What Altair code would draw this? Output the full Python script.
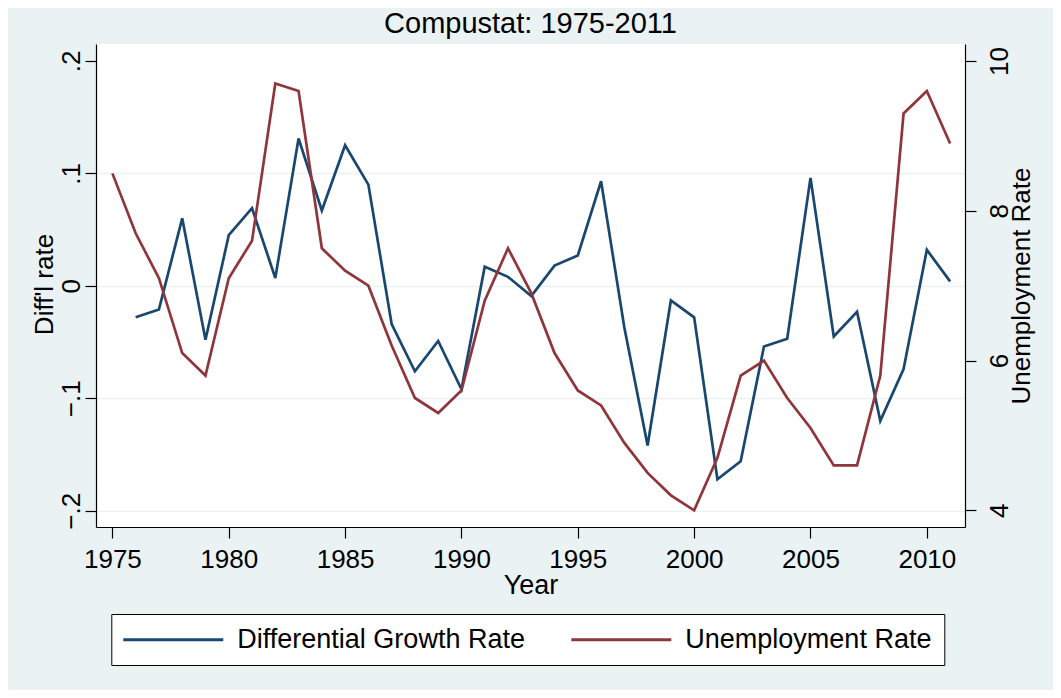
import altair as alt
import pandas as pd

# ---- data ----
years = list(range(1975, 2012))
diff_years = list(range(1976, 2012))
diff_rate = [-0.028, -0.021, 0.060, -0.048, 0.045, 0.069, 0.007, 0.131, 0.067, 0.125,
             0.090, -0.034, -0.076, -0.049, -0.092, 0.017, 0.008, -0.009, 0.018, 0.027,
             0.093, -0.037, -0.142, -0.013, -0.028, -0.172, -0.156, -0.054, -0.047, 0.096,
             -0.045, -0.023, -0.120, -0.074, 0.032, 0.004]
unemp = [8.5, 7.7, 7.1, 6.1, 5.8, 7.1, 7.6, 9.7, 9.6, 7.5,
         7.2, 7.0, 6.2, 5.5, 5.3, 5.6, 6.8, 7.5, 6.9, 6.1,
         5.6, 5.4, 4.9, 4.5, 4.2, 4.0, 4.7, 5.8, 6.0, 5.5,
         5.1, 4.6, 4.6, 5.8, 9.3, 9.6, 8.9]
series_names = ["Differential Growth Rate", "Unemployment Rate"]
series_colors = ["#1A476F", "#90353B"]
x_ticks = [1975, 1980, 1985, 1990, 1995, 2000, 2005, 2010]
left_ticks = [-0.2, -0.1, 0, 0.1, 0.2]
right_ticks = [4, 6, 8, 10]

df = pd.concat([
    pd.DataFrame({"year": diff_years, "series": series_names[0], "value": diff_rate}),
    pd.DataFrame({"year": years, "series": series_names[1], "value": unemp}),
], ignore_index=True)

BG = "#EAF2F3"
FONT = "Liberation Sans"

x_enc = alt.X(
    "year:Q",
    scale=alt.Scale(domain=[1974.295, 2011.64], nice=False, zero=False),
    axis=alt.Axis(values=x_ticks, format="d", title="Year", labelFontSize=26,
                  titleFontSize=27, tickSize=11, labelPadding=8, labelFlush=False,
                  titleY=66, titleBaseline="alphabetic", grid=False),
)

legend = alt.Legend(
    orient="none", legendX=15.3, legendY=570, direction="horizontal", title=None,
    symbolType="M-1.35,0H8.65", symbolSize=400, symbolStrokeWidth=3,
    symbolFillColor="transparent",
    labelFontSize=27, labelFont=FONT, labelColor="black", labelOffset=87,
    labelLimit=500, columnPadding=40, padding=12,
    strokeColor="black", fillColor="white",
    labelExpr="datum.label == 'Unemployment Rate' ? datum.label + '\u00a0' : datum.label",
)
color_enc = alt.Color("series:N", scale=alt.Scale(domain=series_names, range=series_colors),
                      legend=legend)

base = alt.Chart(df)

left_axis = alt.Axis(
    values=left_ticks,
    labelExpr="datum.value == 0 ? '0' : replace(format(datum.value, '.1f'), '0.', '.')",
    title="Diff'l rate", titleAngle=270, titleX=-44, titleY=240,
    titleBaseline="alphabetic", titleAlign="center", titleFontSize=26,
    labelAngle=270, labelAlign="center", labelBaseline="alphabetic", labelPadding=6,
    labelFontSize=26, tickSize=11,
    grid=True, gridColor=BG, gridWidth=1.6,
    gridOpacity={"condition": {"test": "datum.value > 0.15", "value": 0}, "value": 1},
)
right_axis = alt.Axis(
    orient="right", values=right_ticks, format="d",
    title="Unemployment Rate", titleAngle=270, titleX=64, titleY=241.5,
    titleBaseline="alphabetic", titleAlign="center", titleFontSize=26,
    labelAngle=270, labelAlign="center", labelBaseline="top", labelPadding=10,
    labelFontSize=26, tickSize=11, grid=False,
)

blue = base.transform_filter(alt.datum.series == series_names[0]).mark_line(
    strokeWidth=2.7
).encode(
    x=x_enc,
    y=alt.Y("value:Q", scale=alt.Scale(domain=[-0.2144, 0.215], nice=False, zero=False),
            axis=left_axis),
    color=color_enc,
)
red = base.transform_filter(alt.datum.series == series_names[1]).mark_line(
    strokeWidth=2.7
).encode(
    x=x_enc,
    y=alt.Y("value:Q", scale=alt.Scale(domain=[3.777, 10.228], nice=False, zero=False),
            axis=right_axis),
    color=color_enc,
)

chart = alt.layer(blue, red).resolve_scale(y="independent").properties(
    width=869, height=483,
    background=BG,
    padding={"left": 88, "top": 36, "right": 88, "bottom": 163},
    autosize=alt.AutoSizeParams(type="none"),
    title=alt.Title("Compustat: 1975-2011", fontSize=29, font=FONT, fontWeight="normal",
                    color="black", anchor="middle", baseline="alphabetic", offset=7,
                    dy=25, frame="group"),
).configure_view(
    fill="white", strokeWidth=0,
).configure_axis(
    labelFont=FONT, titleFont=FONT, labelColor="black", titleColor="black",
    titleFontWeight="normal", domainColor="black", tickColor="black",
    domainWidth=1.2, tickWidth=1.2,
)

chart.save("out.html", embed_options={"renderer": "svg", "actions": False})
